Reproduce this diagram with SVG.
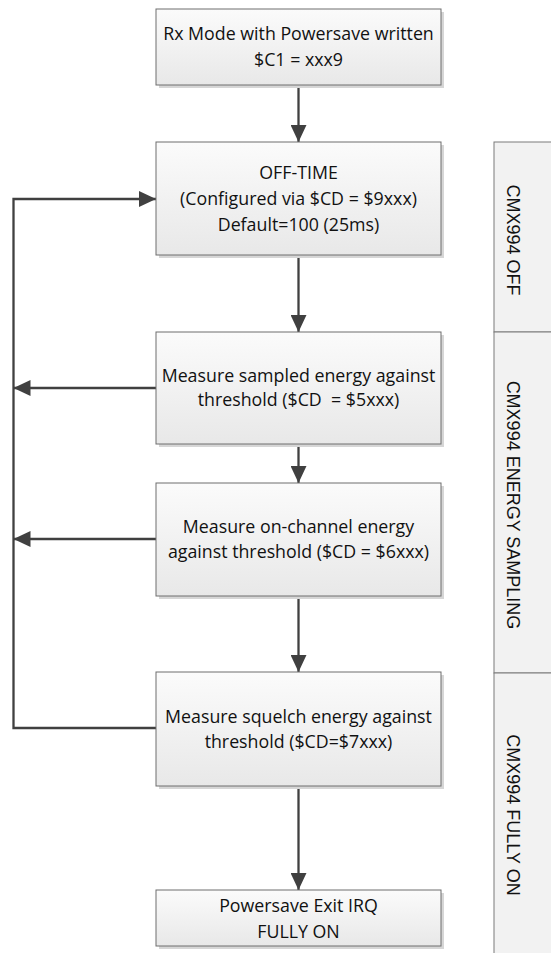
<svg xmlns="http://www.w3.org/2000/svg" width="551" height="953" viewBox="0 0 551 953">
<defs>
<linearGradient id="g" x1="0" y1="0" x2="0" y2="1">
<stop offset="0" stop-color="#fbfbfb"/>
<stop offset="1" stop-color="#e8e8e8"/>
</linearGradient>
<marker id="ah" viewBox="0 0 17 16" refX="17" refY="8" markerWidth="17" markerHeight="16" markerUnits="userSpaceOnUse" orient="auto">
<path d="M0,0 L17,8 L0,16 Z" fill="#404040"/>
</marker>
</defs>
<style>
.box{fill:url(#g);stroke:#6e6e6e;stroke-width:1}
.sh{fill:#d6d6d6}
.t{font-family:"Open Sans","Liberation Sans",sans-serif;font-size:17.8px;fill:#111;text-anchor:middle}
.lt{font-family:"Liberation Sans",Arial,sans-serif;font-size:18px;fill:#111;text-anchor:middle}
.c{fill:none;stroke:#404040;stroke-width:2.3}
.lane{fill:#f2f2f2;stroke:#7a7a7a;stroke-width:1}
</style>
<g id="lanes">
<rect class="lane" x="494" y="142" width="70" height="190"/>
<rect class="lane" x="494" y="332" width="70" height="341"/>
<rect class="lane" x="494" y="673" width="70" height="290"/>
<text class="lt" transform="translate(507,240) rotate(90)">CMX994 OFF</text>
<text class="lt" transform="translate(507,505) rotate(90)">CMX994 ENERGY SAMPLING</text>
<text class="lt" transform="translate(507,815) rotate(90)">CMX994 FULLY ON</text>
</g>
<g id="connectors">
<line class="c" x1="298.5" y1="85" x2="298.5" y2="142" marker-end="url(#ah)"/>
<line class="c" x1="298.5" y1="255" x2="298.5" y2="332" marker-end="url(#ah)"/>
<line class="c" x1="298.5" y1="444" x2="298.5" y2="483" marker-end="url(#ah)"/>
<line class="c" x1="298.5" y1="596" x2="298.5" y2="672" marker-end="url(#ah)"/>
<line class="c" x1="298.5" y1="786" x2="298.5" y2="890" marker-end="url(#ah)"/>
<polyline class="c" points="156,728 13.5,728 13.5,199 156,199" marker-end="url(#ah)"/>
<line class="c" x1="156" y1="388" x2="13.5" y2="388" marker-end="url(#ah)"/>
<line class="c" x1="156" y1="539" x2="13.5" y2="539" marker-end="url(#ah)"/>
</g>
<g id="n1">
<rect class="sh" x="159" y="12" width="285" height="76"/>
<rect class="box" x="156" y="9" width="285" height="76"/>
<text class="t" x="298.5" y="40">Rx Mode with Powersave written</text>
<text class="t" x="298.5" y="66">$C1 = xxx9</text>
</g>
<g id="n2">
<rect class="sh" x="159" y="145" width="285" height="113"/>
<rect class="box" x="156" y="142" width="285" height="113"/>
<text class="t" x="298.5" y="179">OFF-TIME</text>
<text class="t" x="298.5" y="205">(Configured via $CD = $9xxx)</text>
<text class="t" x="298.5" y="231">Default=100 (25ms)</text>
</g>
<g id="n3">
<rect class="sh" x="159" y="335" width="285" height="112"/>
<rect class="box" x="156" y="332" width="285" height="112"/>
<text class="t" x="298.5" y="382">Measure sampled energy against</text>
<text class="t" x="298.5" y="406" xml:space="preserve">threshold ($CD  = $5xxx)</text>
</g>
<g id="n4">
<rect class="sh" x="159" y="486" width="285" height="113"/>
<rect class="box" x="156" y="483" width="285" height="113"/>
<text class="t" x="298.5" y="533">Measure on-channel energy</text>
<text class="t" x="298.5" y="558">against threshold ($CD = $6xxx)</text>
</g>
<g id="n5">
<rect class="sh" x="159" y="675" width="285" height="114"/>
<rect class="box" x="156" y="672" width="285" height="114"/>
<text class="t" x="298.5" y="723">Measure squelch energy against</text>
<text class="t" x="298.5" y="748">threshold ($CD=$7xxx)</text>
</g>
<g id="n6">
<rect class="sh" x="159" y="893" width="285" height="56"/>
<rect class="box" x="156" y="890" width="285" height="56"/>
<text class="t" x="298.5" y="912">Powersave Exit IRQ</text>
<text class="t" x="298.5" y="938">FULLY ON</text>
</g>
</svg>
